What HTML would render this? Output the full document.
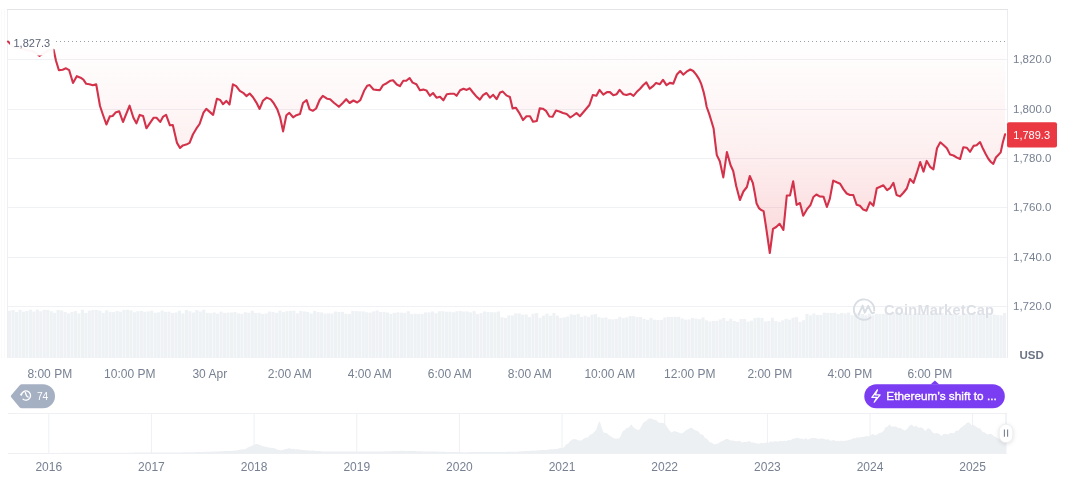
<!DOCTYPE html>
<html><head><meta charset="utf-8"><title>chart</title>
<style>
html,body{margin:0;padding:0;background:#fff;}
body{width:1072px;height:477px;position:relative;overflow:hidden;font-family:"Liberation Sans",sans-serif;}
</style></head><body>
<svg width="1072" height="477" viewBox="0 0 1072 477" style="position:absolute;left:0;top:0;will-change:transform"><defs>
<linearGradient id="rg" x1="0" y1="41.5" x2="0" y2="253" gradientUnits="userSpaceOnUse">
<stop offset="0" stop-color="#ea3943" stop-opacity="0"/>
<stop offset="0.5" stop-color="#ea3943" stop-opacity="0.075"/>
<stop offset="1" stop-color="#ea3943" stop-opacity="0.2"/>
</linearGradient>
</defs><line x1="7.5" y1="9" x2="7.5" y2="358" stroke="#efeff1" stroke-width="1"/><line x1="1.5" y1="9" x2="1.5" y2="358" stroke="#fafafa" stroke-width="1"/><line x1="4.5" y1="9" x2="4.5" y2="358" stroke="#fafafa" stroke-width="1"/><line x1="1007.5" y1="9" x2="1007.5" y2="358" stroke="#ececee" stroke-width="1"/><line x1="7" y1="9.5" x2="1008" y2="9.5" stroke="#e4e4e7" stroke-width="1"/><line x1="8" y1="59.5" x2="1007" y2="59.5" stroke="#eff1f4" stroke-width="1"/><line x1="8" y1="109.5" x2="1007" y2="109.5" stroke="#eff1f4" stroke-width="1"/><line x1="8" y1="158.5" x2="1007" y2="158.5" stroke="#eff1f4" stroke-width="1"/><line x1="8" y1="207.5" x2="1007" y2="207.5" stroke="#eff1f4" stroke-width="1"/><line x1="8" y1="257.5" x2="1007" y2="257.5" stroke="#eff1f4" stroke-width="1"/><line x1="8" y1="306.5" x2="1007" y2="306.5" stroke="#eff1f4" stroke-width="1"/><g fill="#eff2f5"><rect x="8.00" y="310.8" width="3.17" height="47.2"/><rect x="11.47" y="310.1" width="3.17" height="47.9"/><rect x="14.93" y="312.1" width="3.17" height="45.9"/><rect x="18.40" y="309.8" width="3.17" height="48.2"/><rect x="21.87" y="311.6" width="3.17" height="46.4"/><rect x="25.34" y="311.0" width="3.17" height="47.0"/><rect x="28.80" y="309.7" width="3.17" height="48.3"/><rect x="32.27" y="311.5" width="3.17" height="46.5"/><rect x="35.74" y="309.6" width="3.17" height="48.4"/><rect x="39.20" y="311.2" width="3.17" height="46.8"/><rect x="42.67" y="309.8" width="3.17" height="48.2"/><rect x="46.14" y="309.9" width="3.17" height="48.1"/><rect x="49.60" y="311.2" width="3.17" height="46.8"/><rect x="53.07" y="312.8" width="3.17" height="45.2"/><rect x="56.54" y="310.0" width="3.17" height="48.0"/><rect x="60.01" y="310.4" width="3.17" height="47.6"/><rect x="63.47" y="312.0" width="3.17" height="46.0"/><rect x="66.94" y="313.3" width="3.17" height="44.7"/><rect x="70.41" y="311.8" width="3.17" height="46.2"/><rect x="73.87" y="311.1" width="3.17" height="46.9"/><rect x="77.34" y="313.4" width="3.17" height="44.6"/><rect x="80.81" y="309.7" width="3.17" height="48.3"/><rect x="84.27" y="312.9" width="3.17" height="45.1"/><rect x="87.74" y="310.7" width="3.17" height="47.3"/><rect x="91.21" y="310.1" width="3.17" height="47.9"/><rect x="94.68" y="310.0" width="3.17" height="48.0"/><rect x="98.14" y="310.7" width="3.17" height="47.3"/><rect x="101.61" y="312.8" width="3.17" height="45.2"/><rect x="105.08" y="310.2" width="3.17" height="47.8"/><rect x="108.54" y="311.8" width="3.17" height="46.2"/><rect x="112.01" y="312.1" width="3.17" height="45.9"/><rect x="115.48" y="311.0" width="3.17" height="47.0"/><rect x="118.94" y="311.7" width="3.17" height="46.3"/><rect x="122.41" y="309.8" width="3.17" height="48.2"/><rect x="125.88" y="309.7" width="3.17" height="48.3"/><rect x="129.35" y="310.3" width="3.17" height="47.7"/><rect x="132.81" y="312.2" width="3.17" height="45.8"/><rect x="136.28" y="311.2" width="3.17" height="46.8"/><rect x="139.75" y="310.8" width="3.17" height="47.2"/><rect x="143.21" y="311.8" width="3.17" height="46.2"/><rect x="146.68" y="311.3" width="3.17" height="46.7"/><rect x="150.15" y="310.7" width="3.17" height="47.3"/><rect x="153.61" y="312.7" width="3.17" height="45.3"/><rect x="157.08" y="312.3" width="3.17" height="45.7"/><rect x="160.55" y="310.5" width="3.17" height="47.5"/><rect x="164.02" y="311.8" width="3.17" height="46.2"/><rect x="167.48" y="311.6" width="3.17" height="46.4"/><rect x="170.95" y="313.0" width="3.17" height="45.0"/><rect x="174.42" y="312.4" width="3.17" height="45.6"/><rect x="177.88" y="310.7" width="3.17" height="47.3"/><rect x="181.35" y="313.4" width="3.17" height="44.6"/><rect x="184.82" y="310.0" width="3.17" height="48.0"/><rect x="188.28" y="311.2" width="3.17" height="46.8"/><rect x="191.75" y="312.5" width="3.17" height="45.5"/><rect x="195.22" y="310.1" width="3.17" height="47.9"/><rect x="198.69" y="311.5" width="3.17" height="46.5"/><rect x="202.15" y="309.7" width="3.17" height="48.3"/><rect x="205.62" y="312.8" width="3.17" height="45.2"/><rect x="209.09" y="313.2" width="3.17" height="44.8"/><rect x="212.55" y="312.5" width="3.17" height="45.5"/><rect x="216.02" y="313.6" width="3.17" height="44.4"/><rect x="219.49" y="311.6" width="3.17" height="46.4"/><rect x="222.95" y="312.9" width="3.17" height="45.1"/><rect x="226.42" y="312.6" width="3.17" height="45.4"/><rect x="229.89" y="312.5" width="3.17" height="45.5"/><rect x="233.36" y="312.1" width="3.17" height="45.9"/><rect x="236.82" y="313.4" width="3.17" height="44.6"/><rect x="240.29" y="313.8" width="3.17" height="44.2"/><rect x="243.76" y="312.2" width="3.17" height="45.8"/><rect x="247.22" y="312.8" width="3.17" height="45.2"/><rect x="250.69" y="310.7" width="3.17" height="47.3"/><rect x="254.16" y="313.0" width="3.17" height="45.0"/><rect x="257.62" y="312.8" width="3.17" height="45.2"/><rect x="261.09" y="314.0" width="3.17" height="44.0"/><rect x="264.56" y="313.4" width="3.17" height="44.6"/><rect x="268.03" y="311.5" width="3.17" height="46.5"/><rect x="271.49" y="311.9" width="3.17" height="46.1"/><rect x="274.96" y="312.8" width="3.17" height="45.2"/><rect x="278.43" y="310.6" width="3.17" height="47.4"/><rect x="281.89" y="312.1" width="3.17" height="45.9"/><rect x="285.36" y="311.1" width="3.17" height="46.9"/><rect x="288.83" y="310.9" width="3.17" height="47.1"/><rect x="292.30" y="310.7" width="3.17" height="47.3"/><rect x="295.76" y="313.2" width="3.17" height="44.8"/><rect x="299.23" y="311.0" width="3.17" height="47.0"/><rect x="302.70" y="311.4" width="3.17" height="46.6"/><rect x="306.16" y="311.9" width="3.17" height="46.1"/><rect x="309.63" y="313.5" width="3.17" height="44.5"/><rect x="313.10" y="310.8" width="3.17" height="47.2"/><rect x="316.56" y="312.1" width="3.17" height="45.9"/><rect x="320.03" y="312.4" width="3.17" height="45.6"/><rect x="323.50" y="313.6" width="3.17" height="44.4"/><rect x="326.97" y="313.4" width="3.17" height="44.6"/><rect x="330.43" y="313.5" width="3.17" height="44.5"/><rect x="333.90" y="311.5" width="3.17" height="46.5"/><rect x="337.37" y="312.0" width="3.17" height="46.0"/><rect x="340.83" y="311.8" width="3.17" height="46.2"/><rect x="344.30" y="313.6" width="3.17" height="44.4"/><rect x="347.77" y="313.9" width="3.17" height="44.1"/><rect x="351.23" y="311.0" width="3.17" height="47.0"/><rect x="354.70" y="311.1" width="3.17" height="46.9"/><rect x="358.17" y="311.3" width="3.17" height="46.7"/><rect x="361.64" y="311.3" width="3.17" height="46.7"/><rect x="365.10" y="312.2" width="3.17" height="45.8"/><rect x="368.57" y="312.6" width="3.17" height="45.4"/><rect x="372.04" y="311.4" width="3.17" height="46.6"/><rect x="375.50" y="310.5" width="3.17" height="47.5"/><rect x="378.97" y="312.0" width="3.17" height="46.0"/><rect x="382.44" y="311.8" width="3.17" height="46.2"/><rect x="385.90" y="312.5" width="3.17" height="45.5"/><rect x="389.37" y="313.8" width="3.17" height="44.2"/><rect x="392.84" y="312.9" width="3.17" height="45.1"/><rect x="396.31" y="312.3" width="3.17" height="45.7"/><rect x="399.77" y="312.7" width="3.17" height="45.3"/><rect x="403.24" y="312.9" width="3.17" height="45.1"/><rect x="406.71" y="311.2" width="3.17" height="46.8"/><rect x="410.17" y="314.1" width="3.17" height="43.9"/><rect x="413.64" y="313.7" width="3.17" height="44.3"/><rect x="417.11" y="314.1" width="3.17" height="43.9"/><rect x="420.57" y="313.8" width="3.17" height="44.2"/><rect x="424.04" y="312.4" width="3.17" height="45.6"/><rect x="427.51" y="312.4" width="3.17" height="45.6"/><rect x="430.98" y="311.4" width="3.17" height="46.6"/><rect x="434.44" y="313.2" width="3.17" height="44.8"/><rect x="437.91" y="311.2" width="3.17" height="46.8"/><rect x="441.38" y="311.2" width="3.17" height="46.8"/><rect x="444.84" y="311.7" width="3.17" height="46.3"/><rect x="448.31" y="311.6" width="3.17" height="46.4"/><rect x="451.78" y="312.2" width="3.17" height="45.8"/><rect x="455.24" y="311.2" width="3.17" height="46.8"/><rect x="458.71" y="311.0" width="3.17" height="47.0"/><rect x="462.18" y="311.5" width="3.17" height="46.5"/><rect x="465.65" y="311.4" width="3.17" height="46.6"/><rect x="469.11" y="312.3" width="3.17" height="45.7"/><rect x="472.58" y="311.1" width="3.17" height="46.9"/><rect x="476.05" y="314.1" width="3.17" height="43.9"/><rect x="479.51" y="313.1" width="3.17" height="44.9"/><rect x="482.98" y="311.5" width="3.17" height="46.5"/><rect x="486.45" y="311.9" width="3.17" height="46.1"/><rect x="489.91" y="312.2" width="3.17" height="45.8"/><rect x="493.38" y="312.3" width="3.17" height="45.7"/><rect x="496.85" y="311.4" width="3.17" height="46.6"/><rect x="500.32" y="317.2" width="3.17" height="40.8"/><rect x="503.78" y="318.0" width="3.17" height="40.0"/><rect x="507.25" y="315.3" width="3.17" height="42.7"/><rect x="510.72" y="315.4" width="3.17" height="42.6"/><rect x="514.18" y="313.4" width="3.17" height="44.6"/><rect x="517.65" y="313.5" width="3.17" height="44.5"/><rect x="521.12" y="314.7" width="3.17" height="43.3"/><rect x="524.59" y="314.3" width="3.17" height="43.7"/><rect x="528.05" y="317.1" width="3.17" height="40.9"/><rect x="531.52" y="313.8" width="3.17" height="44.2"/><rect x="534.99" y="313.1" width="3.17" height="44.9"/><rect x="538.45" y="317.8" width="3.17" height="40.2"/><rect x="541.92" y="315.6" width="3.17" height="42.4"/><rect x="545.39" y="313.7" width="3.17" height="44.3"/><rect x="548.85" y="315.7" width="3.17" height="42.3"/><rect x="552.32" y="313.1" width="3.17" height="44.9"/><rect x="555.79" y="315.6" width="3.17" height="42.4"/><rect x="559.26" y="317.9" width="3.17" height="40.1"/><rect x="562.72" y="317.3" width="3.17" height="40.7"/><rect x="566.19" y="316.5" width="3.17" height="41.5"/><rect x="569.66" y="314.3" width="3.17" height="43.7"/><rect x="573.12" y="314.8" width="3.17" height="43.2"/><rect x="576.59" y="313.8" width="3.17" height="44.2"/><rect x="580.06" y="316.9" width="3.17" height="41.1"/><rect x="583.52" y="315.7" width="3.17" height="42.3"/><rect x="586.99" y="316.9" width="3.17" height="41.1"/><rect x="590.46" y="314.6" width="3.17" height="43.4"/><rect x="593.93" y="314.1" width="3.17" height="43.9"/><rect x="597.39" y="317.1" width="3.17" height="40.9"/><rect x="600.86" y="317.9" width="3.17" height="40.1"/><rect x="604.33" y="317.3" width="3.17" height="40.7"/><rect x="607.79" y="319.2" width="3.17" height="38.8"/><rect x="611.26" y="319.3" width="3.17" height="38.7"/><rect x="614.73" y="319.0" width="3.17" height="39.0"/><rect x="618.19" y="316.9" width="3.17" height="41.1"/><rect x="621.66" y="318.1" width="3.17" height="39.9"/><rect x="625.13" y="317.4" width="3.17" height="40.6"/><rect x="628.60" y="316.1" width="3.17" height="41.9"/><rect x="632.06" y="316.1" width="3.17" height="41.9"/><rect x="635.53" y="317.1" width="3.17" height="40.9"/><rect x="639.00" y="317.0" width="3.17" height="41.0"/><rect x="642.46" y="318.8" width="3.17" height="39.2"/><rect x="645.93" y="319.8" width="3.17" height="38.2"/><rect x="649.40" y="317.8" width="3.17" height="40.2"/><rect x="652.86" y="319.7" width="3.17" height="38.3"/><rect x="656.33" y="320.0" width="3.17" height="38.0"/><rect x="659.80" y="319.8" width="3.17" height="38.2"/><rect x="663.27" y="317.5" width="3.17" height="40.5"/><rect x="666.73" y="316.9" width="3.17" height="41.1"/><rect x="670.20" y="316.9" width="3.17" height="41.1"/><rect x="673.67" y="316.8" width="3.17" height="41.2"/><rect x="677.13" y="316.8" width="3.17" height="41.2"/><rect x="680.60" y="318.5" width="3.17" height="39.5"/><rect x="684.07" y="319.6" width="3.17" height="38.4"/><rect x="687.53" y="319.4" width="3.17" height="38.6"/><rect x="691.00" y="317.9" width="3.17" height="40.1"/><rect x="694.47" y="318.6" width="3.17" height="39.4"/><rect x="697.94" y="319.2" width="3.17" height="38.8"/><rect x="701.40" y="317.4" width="3.17" height="40.6"/><rect x="704.87" y="320.3" width="3.17" height="37.7"/><rect x="708.34" y="321.5" width="3.17" height="36.5"/><rect x="711.80" y="320.9" width="3.17" height="37.1"/><rect x="715.27" y="320.8" width="3.17" height="37.2"/><rect x="718.74" y="319.4" width="3.17" height="38.6"/><rect x="722.20" y="317.9" width="3.17" height="40.1"/><rect x="725.67" y="320.9" width="3.17" height="37.1"/><rect x="729.14" y="318.7" width="3.17" height="39.3"/><rect x="732.61" y="321.0" width="3.17" height="37.0"/><rect x="736.07" y="321.9" width="3.17" height="36.1"/><rect x="739.54" y="319.0" width="3.17" height="39.0"/><rect x="743.01" y="319.0" width="3.17" height="39.0"/><rect x="746.47" y="321.7" width="3.17" height="36.3"/><rect x="749.94" y="320.6" width="3.17" height="37.4"/><rect x="753.41" y="317.9" width="3.17" height="40.1"/><rect x="756.88" y="317.6" width="3.17" height="40.4"/><rect x="760.34" y="317.8" width="3.17" height="40.2"/><rect x="763.81" y="321.5" width="3.17" height="36.5"/><rect x="767.28" y="321.0" width="3.17" height="37.0"/><rect x="770.74" y="317.7" width="3.17" height="40.3"/><rect x="774.21" y="321.1" width="3.17" height="36.9"/><rect x="777.68" y="321.9" width="3.17" height="36.1"/><rect x="781.14" y="320.3" width="3.17" height="37.7"/><rect x="784.61" y="318.8" width="3.17" height="39.2"/><rect x="788.08" y="319.7" width="3.17" height="38.3"/><rect x="791.55" y="317.7" width="3.17" height="40.3"/><rect x="795.01" y="317.1" width="3.17" height="40.9"/><rect x="798.48" y="321.9" width="3.17" height="36.1"/><rect x="801.95" y="320.2" width="3.17" height="37.8"/><rect x="805.41" y="313.8" width="3.17" height="44.2"/><rect x="808.88" y="315.3" width="3.17" height="42.7"/><rect x="812.35" y="313.5" width="3.17" height="44.5"/><rect x="815.81" y="315.1" width="3.17" height="42.9"/><rect x="819.28" y="314.9" width="3.17" height="43.1"/><rect x="822.75" y="312.7" width="3.17" height="45.3"/><rect x="826.22" y="312.9" width="3.17" height="45.1"/><rect x="829.68" y="313.0" width="3.17" height="45.0"/><rect x="833.15" y="312.8" width="3.17" height="45.2"/><rect x="836.62" y="314.1" width="3.17" height="43.9"/><rect x="840.08" y="312.9" width="3.17" height="45.1"/><rect x="843.55" y="313.5" width="3.17" height="44.5"/><rect x="847.02" y="312.5" width="3.17" height="45.5"/><rect x="850.48" y="315.2" width="3.17" height="42.8"/><rect x="853.95" y="313.2" width="3.17" height="44.8"/><rect x="857.42" y="313.6" width="3.17" height="44.4"/><rect x="860.89" y="314.0" width="3.17" height="44.0"/><rect x="864.35" y="315.2" width="3.17" height="42.8"/><rect x="867.82" y="313.5" width="3.17" height="44.5"/><rect x="871.29" y="315.2" width="3.17" height="42.8"/><rect x="874.75" y="313.8" width="3.17" height="44.2"/><rect x="878.22" y="313.9" width="3.17" height="44.1"/><rect x="881.69" y="313.8" width="3.17" height="44.2"/><rect x="885.15" y="312.1" width="3.17" height="45.9"/><rect x="888.62" y="313.5" width="3.17" height="44.5"/><rect x="892.09" y="312.6" width="3.17" height="45.4"/><rect x="895.56" y="312.0" width="3.17" height="46.0"/><rect x="899.02" y="314.8" width="3.17" height="43.2"/><rect x="902.49" y="312.6" width="3.17" height="45.4"/><rect x="905.96" y="313.7" width="3.17" height="44.3"/><rect x="909.42" y="314.5" width="3.17" height="43.5"/><rect x="912.89" y="313.9" width="3.17" height="44.1"/><rect x="916.36" y="313.1" width="3.17" height="44.9"/><rect x="919.82" y="313.8" width="3.17" height="44.2"/><rect x="923.29" y="313.9" width="3.17" height="44.1"/><rect x="926.76" y="314.7" width="3.17" height="43.3"/><rect x="930.23" y="312.4" width="3.17" height="45.6"/><rect x="933.69" y="314.0" width="3.17" height="44.0"/><rect x="937.16" y="312.9" width="3.17" height="45.1"/><rect x="940.63" y="313.0" width="3.17" height="45.0"/><rect x="944.09" y="314.7" width="3.17" height="43.3"/><rect x="947.56" y="313.8" width="3.17" height="44.2"/><rect x="951.03" y="314.0" width="3.17" height="44.0"/><rect x="954.49" y="314.7" width="3.17" height="43.3"/><rect x="957.96" y="315.2" width="3.17" height="42.8"/><rect x="961.43" y="313.6" width="3.17" height="44.4"/><rect x="964.90" y="314.1" width="3.17" height="43.9"/><rect x="968.36" y="313.8" width="3.17" height="44.2"/><rect x="971.83" y="313.8" width="3.17" height="44.2"/><rect x="975.30" y="314.4" width="3.17" height="43.6"/><rect x="978.76" y="313.6" width="3.17" height="44.4"/><rect x="982.23" y="313.9" width="3.17" height="44.1"/><rect x="985.70" y="313.7" width="3.17" height="44.3"/><rect x="989.16" y="315.3" width="3.17" height="42.7"/><rect x="992.63" y="314.4" width="3.17" height="43.6"/><rect x="996.10" y="315.1" width="3.17" height="42.9"/><rect x="999.57" y="315.3" width="3.17" height="42.7"/><rect x="1003.03" y="312.9" width="3.17" height="45.1"/></g><polygon points="8.0,41.5 8.0,41.5 13.5,47.0 20.0,48.0 26.0,50.0 32.0,51.0 36.0,53.0 39.5,56.0 44.0,53.0 48.0,50.5 53.6,49.8 56.0,60.8 58.9,70.2 62.6,69.8 66.0,68.3 69.2,70.2 73.0,83.0 76.8,76.2 80.6,77.7 83.4,79.6 86.2,83.8 89.4,84.2 92.8,85.3 96.2,84.3 100.0,106.0 103.2,115.5 106.4,124.5 109.8,116.4 112.6,116.0 115.5,112.6 119.2,111.3 123.0,122.0 129.6,105.7 133.4,117.8 136.4,123.3 139.7,114.9 143.1,116.1 146.4,128.3 150.1,122.8 153.5,117.8 156.5,117.8 160.2,121.9 163.2,116.6 166.1,114.9 169.9,125.3 172.8,125.0 177.0,142.9 180.0,148.0 182.9,145.4 186.2,144.6 189.6,142.9 192.9,134.5 196.3,128.7 199.6,124.0 203.5,112.7 206.3,108.9 209.7,111.9 213.1,114.9 216.9,98.8 220.2,100.0 223.0,104.2 226.3,100.9 229.5,104.5 232.9,84.4 236.2,86.2 239.8,90.9 243.2,92.8 246.4,96.1 249.7,93.5 253.0,97.2 256.4,102.6 259.6,108.9 262.9,100.8 266.7,97.6 270.7,99.4 273.6,103.0 277.3,109.4 280.2,117.7 283.1,131.4 286.4,115.2 289.3,112.9 293.1,117.3 296.4,115.2 300.0,114.0 303.0,103.0 306.6,100.1 309.6,109.4 312.8,110.8 316.1,108.5 319.6,100.0 322.8,95.8 327.0,98.7 330.1,99.2 333.9,102.7 338.9,106.8 343.0,102.7 346.2,99.2 349.6,103.0 353.4,100.5 357.2,102.5 360.3,100.2 364.1,90.8 367.2,85.8 369.7,85.1 373.5,89.5 376.7,89.9 379.8,90.2 383.0,85.1 386.7,83.2 390.5,80.7 393.0,80.3 396.8,84.5 399.9,86.1 403.3,80.8 406.3,80.8 409.6,78.0 412.6,82.6 416.4,84.2 419.9,90.2 423.3,89.6 426.4,90.4 429.9,95.8 433.0,93.0 436.5,97.7 440.0,96.7 443.4,100.3 446.8,94.2 450.3,93.7 454.1,93.7 456.6,95.8 460.1,90.2 463.5,88.7 466.7,89.9 469.8,88.3 473.0,92.5 476.1,96.2 479.9,99.6 483.0,95.2 486.5,93.0 489.9,97.7 493.2,94.8 496.6,99.2 500.1,92.6 502.8,91.6 506.4,95.4 509.9,97.0 512.6,108.4 515.8,107.7 519.2,112.8 523.0,120.1 526.5,116.3 530.0,116.3 533.0,121.8 536.8,120.9 539.7,108.4 542.8,108.7 546.0,110.9 549.4,116.5 552.6,116.8 556.0,110.5 559.4,111.5 563.0,113.0 566.7,114.0 570.3,117.5 573.3,115.5 576.5,113.0 579.9,116.2 585.0,110.3 589.4,105.0 592.8,95.0 596.4,95.8 599.5,89.9 603.3,94.6 607.0,92.1 609.9,92.1 613.3,95.2 616.7,94.2 619.6,89.9 623.4,94.2 626.5,95.0 630.3,93.7 633.5,95.8 636.6,92.1 640.1,88.7 643.1,85.2 646.4,82.4 649.8,88.7 653.0,86.2 656.1,82.9 659.9,84.2 663.0,79.9 666.5,85.2 669.9,82.9 673.3,83.6 676.9,74.5 680.2,71.0 683.2,74.7 686.6,71.7 690.3,69.5 693.2,71.0 696.2,74.7 699.1,79.1 701.3,84.2 703.5,91.6 705.3,99.6 706.7,107.0 709.1,113.6 711.6,121.7 713.6,128.5 715.1,141.4 716.8,155.1 719.8,161.3 723.3,177.4 726.9,152.1 730.6,165.2 733.2,171.0 736.2,186.0 739.9,200.0 743.4,191.5 746.9,187.0 749.8,176.0 752.8,182.8 754.7,192.6 756.6,203.6 758.9,208.1 761.1,210.0 763.6,211.1 766.0,226.6 769.8,253.0 773.0,228.9 776.2,227.0 779.6,223.8 783.4,230.0 786.8,195.5 790.0,195.5 793.2,181.3 796.6,204.9 800.0,203.0 803.2,215.7 807.0,209.2 810.5,205.0 813.4,197.0 816.4,194.5 819.6,196.4 823.5,196.7 826.9,207.0 829.8,198.9 833.2,180.6 836.7,182.3 840.1,183.8 843.5,189.4 846.7,193.5 849.9,195.0 853.3,195.0 856.7,204.8 859.9,205.8 863.2,209.6 866.5,210.7 869.9,202.3 873.4,205.8 876.8,188.2 880.2,186.7 883.4,185.3 887.1,190.1 890.0,188.2 893.4,182.8 896.6,195.0 899.9,196.4 903.2,193.0 906.8,188.5 910.0,179.0 913.5,182.9 916.9,172.7 920.2,162.0 923.5,171.6 926.7,160.9 930.1,166.8 933.4,169.3 937.0,148.2 940.3,142.3 943.7,145.2 946.9,148.2 950.1,154.6 953.5,155.5 956.9,157.6 960.1,159.0 963.3,147.3 966.7,147.7 970.1,151.8 973.5,145.9 976.6,145.3 980.1,142.1 982.9,148.6 985.8,154.2 988.5,159.0 990.9,162.0 993.3,163.9 995.9,157.5 998.3,155.0 1000.7,152.4 1002.8,142.5 1005.1,134.3 1005.1,41.5" fill="url(#rg)"/><line x1="8" y1="41.5" x2="1007" y2="41.5" stroke="#9aa0aa" stroke-width="1" stroke-dasharray="1 3"/><polyline points="8.0,41.5 13.5,47.0 20.0,48.0 26.0,50.0 32.0,51.0 36.0,53.0 39.5,56.0 44.0,53.0 48.0,50.5 53.6,49.8 56.0,60.8 58.9,70.2 62.6,69.8 66.0,68.3 69.2,70.2 73.0,83.0 76.8,76.2 80.6,77.7 83.4,79.6 86.2,83.8 89.4,84.2 92.8,85.3 96.2,84.3 100.0,106.0 103.2,115.5 106.4,124.5 109.8,116.4 112.6,116.0 115.5,112.6 119.2,111.3 123.0,122.0 129.6,105.7 133.4,117.8 136.4,123.3 139.7,114.9 143.1,116.1 146.4,128.3 150.1,122.8 153.5,117.8 156.5,117.8 160.2,121.9 163.2,116.6 166.1,114.9 169.9,125.3 172.8,125.0 177.0,142.9 180.0,148.0 182.9,145.4 186.2,144.6 189.6,142.9 192.9,134.5 196.3,128.7 199.6,124.0 203.5,112.7 206.3,108.9 209.7,111.9 213.1,114.9 216.9,98.8 220.2,100.0 223.0,104.2 226.3,100.9 229.5,104.5 232.9,84.4 236.2,86.2 239.8,90.9 243.2,92.8 246.4,96.1 249.7,93.5 253.0,97.2 256.4,102.6 259.6,108.9 262.9,100.8 266.7,97.6 270.7,99.4 273.6,103.0 277.3,109.4 280.2,117.7 283.1,131.4 286.4,115.2 289.3,112.9 293.1,117.3 296.4,115.2 300.0,114.0 303.0,103.0 306.6,100.1 309.6,109.4 312.8,110.8 316.1,108.5 319.6,100.0 322.8,95.8 327.0,98.7 330.1,99.2 333.9,102.7 338.9,106.8 343.0,102.7 346.2,99.2 349.6,103.0 353.4,100.5 357.2,102.5 360.3,100.2 364.1,90.8 367.2,85.8 369.7,85.1 373.5,89.5 376.7,89.9 379.8,90.2 383.0,85.1 386.7,83.2 390.5,80.7 393.0,80.3 396.8,84.5 399.9,86.1 403.3,80.8 406.3,80.8 409.6,78.0 412.6,82.6 416.4,84.2 419.9,90.2 423.3,89.6 426.4,90.4 429.9,95.8 433.0,93.0 436.5,97.7 440.0,96.7 443.4,100.3 446.8,94.2 450.3,93.7 454.1,93.7 456.6,95.8 460.1,90.2 463.5,88.7 466.7,89.9 469.8,88.3 473.0,92.5 476.1,96.2 479.9,99.6 483.0,95.2 486.5,93.0 489.9,97.7 493.2,94.8 496.6,99.2 500.1,92.6 502.8,91.6 506.4,95.4 509.9,97.0 512.6,108.4 515.8,107.7 519.2,112.8 523.0,120.1 526.5,116.3 530.0,116.3 533.0,121.8 536.8,120.9 539.7,108.4 542.8,108.7 546.0,110.9 549.4,116.5 552.6,116.8 556.0,110.5 559.4,111.5 563.0,113.0 566.7,114.0 570.3,117.5 573.3,115.5 576.5,113.0 579.9,116.2 585.0,110.3 589.4,105.0 592.8,95.0 596.4,95.8 599.5,89.9 603.3,94.6 607.0,92.1 609.9,92.1 613.3,95.2 616.7,94.2 619.6,89.9 623.4,94.2 626.5,95.0 630.3,93.7 633.5,95.8 636.6,92.1 640.1,88.7 643.1,85.2 646.4,82.4 649.8,88.7 653.0,86.2 656.1,82.9 659.9,84.2 663.0,79.9 666.5,85.2 669.9,82.9 673.3,83.6 676.9,74.5 680.2,71.0 683.2,74.7 686.6,71.7 690.3,69.5 693.2,71.0 696.2,74.7 699.1,79.1 701.3,84.2 703.5,91.6 705.3,99.6 706.7,107.0 709.1,113.6 711.6,121.7 713.6,128.5 715.1,141.4 716.8,155.1 719.8,161.3 723.3,177.4 726.9,152.1 730.6,165.2 733.2,171.0 736.2,186.0 739.9,200.0 743.4,191.5 746.9,187.0 749.8,176.0 752.8,182.8 754.7,192.6 756.6,203.6 758.9,208.1 761.1,210.0 763.6,211.1 766.0,226.6 769.8,253.0 773.0,228.9 776.2,227.0 779.6,223.8 783.4,230.0 786.8,195.5 790.0,195.5 793.2,181.3 796.6,204.9 800.0,203.0 803.2,215.7 807.0,209.2 810.5,205.0 813.4,197.0 816.4,194.5 819.6,196.4 823.5,196.7 826.9,207.0 829.8,198.9 833.2,180.6 836.7,182.3 840.1,183.8 843.5,189.4 846.7,193.5 849.9,195.0 853.3,195.0 856.7,204.8 859.9,205.8 863.2,209.6 866.5,210.7 869.9,202.3 873.4,205.8 876.8,188.2 880.2,186.7 883.4,185.3 887.1,190.1 890.0,188.2 893.4,182.8 896.6,195.0 899.9,196.4 903.2,193.0 906.8,188.5 910.0,179.0 913.5,182.9 916.9,172.7 920.2,162.0 923.5,171.6 926.7,160.9 930.1,166.8 933.4,169.3 937.0,148.2 940.3,142.3 943.7,145.2 946.9,148.2 950.1,154.6 953.5,155.5 956.9,157.6 960.1,159.0 963.3,147.3 966.7,147.7 970.1,151.8 973.5,145.9 976.6,145.3 980.1,142.1 982.9,148.6 985.8,154.2 988.5,159.0 990.9,162.0 993.3,163.9 995.9,157.5 998.3,155.0 1000.7,152.4 1002.8,142.5 1005.1,134.3" fill="none" stroke="#d3324a" stroke-width="2.1" stroke-linejoin="round" stroke-linecap="round"/><rect x="10" y="34" width="43.5" height="21.5" fill="#fff" fill-opacity="0.96"/><text x="13.5" y="46.8" font-family='"Liberation Sans", sans-serif' font-size="11" fill="#5b6475">1,827.3</text><g fill="none" stroke="#d9dde4" stroke-width="1.9" stroke-linecap="round" stroke-linejoin="round">
<path d="M874.2,310.5 A10.2,10.2 0 1 0 870.6,317.4"/>
<path d="M858.6,314.6 L862.6,305.6 L864.8,312.6 L868.2,305.8 L870.8,311.4 Q872,314.4 874,312.6"/>
</g><text x="884" y="315.4" font-family='"Liberation Sans", sans-serif' font-size="14.5" font-weight="bold" letter-spacing="0.3" fill="#dcdfe5">CoinMarketCap</text><text x="1013.0" y="62.8" font-family='"Liberation Sans", sans-serif' font-size="11.5" fill="#778192">1,820.0</text><text x="1013.0" y="112.8" font-family='"Liberation Sans", sans-serif' font-size="11.5" fill="#778192">1,800.0</text><text x="1013.0" y="161.8" font-family='"Liberation Sans", sans-serif' font-size="11.5" fill="#778192">1,780.0</text><text x="1013.0" y="210.8" font-family='"Liberation Sans", sans-serif' font-size="11.5" fill="#778192">1,760.0</text><text x="1013.0" y="260.8" font-family='"Liberation Sans", sans-serif' font-size="11.5" fill="#778192">1,740.0</text><text x="1013.0" y="309.8" font-family='"Liberation Sans", sans-serif' font-size="11.5" fill="#778192">1,720.0</text><rect x="1007" y="122.2" width="50" height="25.3" rx="2" fill="#ea3943"/><text x="1013.3" y="139" font-family='"Liberation Sans", sans-serif' font-size="11" fill="#fff">1,789.3</text><text x="1019.5" y="358.8" font-family='"Liberation Sans", sans-serif' font-size="11.5" font-weight="bold" fill="#6b7485">USD</text><text x="49.8" y="378.3" text-anchor="middle" font-family='"Liberation Sans", sans-serif' font-size="12" fill="#778192">8:00 PM</text><text x="129.8" y="378.3" text-anchor="middle" font-family='"Liberation Sans", sans-serif' font-size="12" fill="#778192">10:00 PM</text><text x="209.8" y="378.3" text-anchor="middle" font-family='"Liberation Sans", sans-serif' font-size="12" fill="#778192">30 Apr</text><text x="289.8" y="378.3" text-anchor="middle" font-family='"Liberation Sans", sans-serif' font-size="12" fill="#778192">2:00 AM</text><text x="369.8" y="378.3" text-anchor="middle" font-family='"Liberation Sans", sans-serif' font-size="12" fill="#778192">4:00 AM</text><text x="449.8" y="378.3" text-anchor="middle" font-family='"Liberation Sans", sans-serif' font-size="12" fill="#778192">6:00 AM</text><text x="529.8" y="378.3" text-anchor="middle" font-family='"Liberation Sans", sans-serif' font-size="12" fill="#778192">8:00 AM</text><text x="609.8" y="378.3" text-anchor="middle" font-family='"Liberation Sans", sans-serif' font-size="12" fill="#778192">10:00 AM</text><text x="689.8" y="378.3" text-anchor="middle" font-family='"Liberation Sans", sans-serif' font-size="12" fill="#778192">12:00 PM</text><text x="769.8" y="378.3" text-anchor="middle" font-family='"Liberation Sans", sans-serif' font-size="12" fill="#778192">2:00 PM</text><text x="849.8" y="378.3" text-anchor="middle" font-family='"Liberation Sans", sans-serif' font-size="12" fill="#778192">4:00 PM</text><text x="929.8" y="378.3" text-anchor="middle" font-family='"Liberation Sans", sans-serif' font-size="12" fill="#778192">6:00 PM</text><path d="M22,384.3 L43,384.3 A12,12 0 0 1 43,408.3 L22,408.3 Q20.5,408.3 19.5,407.2 L11.2,397.3 Q10.4,396.3 11.2,395.3 L19.5,385.4 Q20.5,384.3 22,384.3 Z" fill="#a6b0c3"/><g fill="none" stroke="#fff" stroke-width="1.3" stroke-linecap="round" stroke-linejoin="round">
<path d="M21.4,394.8 A4.6,4.6 0 1 1 23.1,399.2"/>
<path d="M25.3,392.6 L26.6,395.9 L28.1,397"/>
</g><circle cx="21.1" cy="394.6" r="1" fill="#fff"/><text x="36.9" y="400.1" font-family='"Liberation Sans", sans-serif' font-size="10.2" fill="#fff">74</text><path d="M930.5,384.4 L934.9,380.4 L939.3,384.4 Z" fill="#7b3df2"/><rect x="864.3" y="384.3" width="140.5" height="24" rx="12" fill="#7b3df2"/><path d="M877.4,389.9 L871.9,397.4 L876.9,397.4 L874.2,402.2 L880.1,394.9 L875.2,394.9 Z" fill="none" stroke="#fff" stroke-width="1.3" stroke-linejoin="round"/><text x="886.3" y="399.8" font-family='"Liberation Sans", sans-serif' font-size="11.8" fill="#fff" stroke="#fff" stroke-width="0.35">Ethereum's shift to ...</text><line x1="8" y1="413.5" x2="1006.5" y2="413.5" stroke="#eef0f3" stroke-width="1"/><line x1="48.8" y1="414" x2="48.8" y2="453" stroke="#eef0f3" stroke-width="1"/><line x1="151.4" y1="414" x2="151.4" y2="453" stroke="#eef0f3" stroke-width="1"/><line x1="254.1" y1="414" x2="254.1" y2="453" stroke="#eef0f3" stroke-width="1"/><line x1="356.8" y1="414" x2="356.8" y2="453" stroke="#eef0f3" stroke-width="1"/><line x1="459.4" y1="414" x2="459.4" y2="453" stroke="#eef0f3" stroke-width="1"/><line x1="562.0" y1="414" x2="562.0" y2="453" stroke="#eef0f3" stroke-width="1"/><line x1="664.7" y1="414" x2="664.7" y2="453" stroke="#eef0f3" stroke-width="1"/><line x1="767.4" y1="414" x2="767.4" y2="453" stroke="#eef0f3" stroke-width="1"/><line x1="870.0" y1="414" x2="870.0" y2="453" stroke="#eef0f3" stroke-width="1"/><line x1="972.6" y1="414" x2="972.6" y2="453" stroke="#eef0f3" stroke-width="1"/><polygon points="8.0,453.0 9.6,453.0 11.2,453.0 12.8,453.0 14.5,453.0 16.1,453.0 17.7,453.0 19.3,453.0 20.9,453.0 22.5,453.0 24.1,453.0 25.8,452.9 27.4,452.9 29.0,452.9 30.6,452.9 32.2,452.9 33.8,452.9 35.4,452.9 37.0,452.9 38.7,452.9 40.3,452.9 41.9,452.9 43.5,452.9 45.1,452.9 46.7,452.9 48.3,452.9 50.0,452.9 51.6,452.9 53.2,452.9 54.8,452.9 56.4,452.9 58.0,452.9 59.6,452.9 61.2,452.9 62.9,452.8 64.5,452.8 66.1,452.8 67.7,452.8 69.3,452.8 70.9,452.8 72.5,452.8 74.2,452.8 75.8,452.8 77.4,452.8 79.0,452.8 80.6,452.8 82.2,452.8 83.8,452.8 85.5,452.8 87.1,452.8 88.7,452.8 90.3,452.8 91.9,452.8 93.5,452.8 95.1,452.8 96.8,452.8 98.4,452.7 100.0,452.7 101.6,452.7 103.2,452.7 104.8,452.7 106.4,452.7 108.0,452.7 109.7,452.7 111.3,452.7 112.9,452.7 114.5,452.7 116.1,452.7 117.7,452.7 119.3,452.7 121.0,452.7 122.6,452.7 124.2,452.7 125.8,452.7 127.4,452.7 129.0,452.7 130.6,452.7 132.2,452.7 133.9,452.6 135.5,452.6 137.1,452.6 138.7,452.6 140.3,452.6 141.9,452.6 143.5,452.6 145.2,452.6 146.8,452.6 148.4,452.6 150.0,452.6 151.6,452.6 153.2,452.6 154.8,452.6 156.4,452.6 158.0,452.5 159.6,452.5 161.2,452.5 162.8,452.5 164.4,452.5 166.0,452.5 167.6,452.5 169.2,452.5 170.8,452.4 172.4,452.4 174.0,452.4 175.6,452.4 177.2,452.4 178.8,452.4 180.4,452.4 182.0,452.4 183.6,452.3 185.2,452.3 186.8,452.3 188.4,452.3 190.0,452.3 191.6,452.2 193.3,452.2 194.9,452.2 196.6,452.1 198.2,452.1 199.9,452.0 201.5,452.0 203.1,451.9 204.8,451.8 206.4,451.8 208.1,451.8 209.7,451.7 211.4,451.7 213.0,451.6 214.7,451.5 216.3,451.5 218.0,451.4 219.7,451.3 221.3,451.2 223.0,451.2 224.7,451.1 226.3,451.0 228.0,451.0 229.7,451.0 231.3,450.9 233.0,450.8 234.8,450.4 236.6,450.5 238.4,449.9 240.3,449.5 242.1,449.4 243.9,449.2 245.7,449.0 247.3,447.8 248.9,447.0 250.5,446.5 252.3,445.5 254.0,444.9 255.8,444.0 257.5,444.0 259.1,444.7 260.8,445.3 262.5,446.1 264.2,446.6 265.9,446.7 267.5,447.2 269.2,447.5 270.9,447.8 272.6,448.0 274.3,448.3 275.9,448.7 277.6,449.7 279.3,450.0 281.0,450.3 282.9,450.1 284.8,449.0 286.6,448.9 288.5,448.3 290.3,448.5 292.1,448.9 293.9,448.8 295.7,449.5 297.5,449.1 299.3,449.6 301.1,449.8 302.8,450.0 304.5,450.2 306.1,450.2 307.8,450.4 309.5,450.5 311.2,450.7 312.9,450.6 314.5,450.8 316.2,451.0 317.9,451.1 319.6,451.1 321.3,451.3 322.9,451.5 324.6,451.5 326.3,451.6 327.9,451.6 329.6,451.6 331.2,451.6 332.8,451.6 334.4,451.6 336.1,451.6 337.7,451.6 339.3,451.6 340.9,451.6 342.6,451.6 344.2,451.6 345.8,451.6 347.4,451.6 349.1,451.6 350.7,451.6 352.3,451.6 353.9,451.6 355.6,451.6 357.2,451.6 358.8,451.6 360.4,451.6 362.1,451.6 363.7,451.6 365.3,451.6 366.9,451.6 368.6,451.6 370.2,451.6 371.8,451.6 373.4,451.6 375.1,451.6 376.7,451.6 378.4,451.6 380.1,451.5 381.7,451.4 383.4,451.5 385.1,451.3 386.8,451.3 388.5,451.2 390.1,451.2 391.8,451.2 393.5,451.1 395.2,451.1 396.9,450.9 398.5,450.9 400.2,450.8 401.9,450.8 403.6,450.8 405.2,450.9 406.9,451.0 408.5,451.0 410.2,451.0 411.8,451.1 413.5,451.0 415.1,451.1 416.8,451.2 418.4,451.2 420.1,451.2 421.7,451.3 423.4,451.4 425.0,451.4 426.7,451.4 428.3,451.5 430.0,451.5 431.7,451.6 433.3,451.6 435.0,451.6 436.7,451.6 438.3,451.7 440.0,451.7 441.6,451.8 443.3,451.8 445.0,451.8 446.6,451.9 448.3,451.9 450.0,451.9 451.6,452.0 453.3,452.0 454.9,452.1 456.6,452.1 458.3,452.1 459.9,452.1 461.6,452.2 463.2,452.2 464.8,452.2 466.4,452.2 468.0,452.2 469.6,452.1 471.2,452.1 472.8,452.1 474.5,452.1 476.1,452.1 477.7,452.1 479.3,452.0 480.9,452.0 482.5,452.0 484.1,452.0 485.7,452.0 487.3,452.0 488.9,452.0 490.5,452.0 492.1,452.0 493.7,452.0 495.3,451.9 496.9,451.9 498.5,451.9 500.1,451.9 501.8,451.9 503.4,451.9 505.0,451.9 506.6,451.8 508.2,451.8 509.8,451.8 511.4,451.8 513.0,451.8 514.6,451.7 516.2,451.7 517.8,451.6 519.5,451.6 521.1,451.3 522.7,451.3 524.3,451.0 525.9,451.1 527.5,451.0 529.2,450.9 530.8,450.8 532.4,450.6 534.0,450.7 535.6,450.6 537.2,450.5 538.9,450.3 540.5,450.3 542.1,450.0 543.7,450.0 545.3,450.1 546.9,449.9 548.5,449.5 550.2,449.3 551.8,449.3 553.4,449.3 555.0,449.1 556.8,448.9 558.6,448.4 560.4,447.7 562.2,447.9 564.0,447.3 566.0,444.6 568.0,443.8 570.0,441.3 572.2,439.5 574.4,439.1 576.6,439.5 578.9,440.6 581.1,440.4 583.4,439.1 585.6,437.5 587.8,437.6 590.0,434.7 592.3,433.9 594.1,432.1 596.0,430.1 598.3,423.4 599.8,421.2 601.3,426.4 603.5,432.4 606.5,433.1 609.5,435.4 612.5,437.6 614.4,438.5 616.2,438.4 618.0,438.8 619.9,437.6 622.9,430.9 624.8,430.0 626.6,427.9 628.9,427.5 631.1,424.2 634.1,427.9 636.0,429.0 637.8,430.1 639.7,429.3 641.6,425.7 643.8,422.1 646.0,421.2 648.2,418.8 650.5,418.2 652.4,419.0 654.3,419.7 656.1,420.1 658.0,421.9 659.9,423.0 661.7,422.7 664.7,423.4 667.7,427.9 669.5,430.6 671.4,432.4 674.4,430.9 676.6,431.7 678.9,432.4 681.1,433.5 683.4,432.4 686.3,430.1 688.5,429.0 690.8,427.6 692.6,428.2 694.5,430.1 696.4,430.5 698.3,431.6 700.5,434.2 702.8,434.6 705.0,438.0 707.2,439.1 709.5,442.1 711.8,442.7 714.0,444.3 716.0,444.1 718.0,443.6 720.0,442.1 722.0,441.2 723.9,440.3 725.9,439.1 727.9,439.0 729.9,440.2 731.9,440.6 733.9,440.8 735.8,441.3 737.8,441.3 739.8,440.8 741.8,442.6 743.8,442.1 745.8,441.9 747.8,441.4 749.8,441.3 751.6,442.4 753.5,442.6 755.4,443.0 757.2,443.6 759.1,443.7 761.0,442.7 762.8,443.3 764.7,443.1 766.7,442.4 768.7,442.7 770.7,441.3 772.7,442.1 774.6,441.1 776.6,441.6 778.6,441.5 780.6,440.8 782.6,441.3 784.6,440.7 786.6,441.0 788.6,439.9 790.6,440.3 792.6,438.8 794.6,438.4 796.5,438.0 798.3,437.7 800.1,438.7 802.0,438.4 803.9,439.5 805.8,437.9 807.6,439.5 809.5,439.1 811.4,437.9 813.2,438.1 815.1,438.0 817.0,438.4 818.9,439.0 820.7,438.4 822.5,438.6 824.4,439.1 826.3,439.7 828.1,439.0 830.0,440.7 831.9,440.6 833.8,440.1 835.6,441.0 837.5,440.7 839.4,441.3 841.3,440.6 843.1,441.0 845.0,440.7 846.9,440.6 848.5,439.9 850.1,439.5 851.8,439.3 853.4,438.1 855.0,438.4 857.0,437.2 859.0,437.7 861.0,436.9 863.0,437.0 864.9,436.4 866.9,436.1 868.9,436.4 870.9,435.0 872.9,433.9 875.1,435.3 877.4,434.6 879.6,432.7 881.9,432.4 883.8,430.6 885.6,427.2 887.5,426.7 889.3,424.2 891.5,426.6 893.8,426.4 896.0,426.6 898.3,427.9 900.5,428.1 902.8,429.4 905.0,430.4 907.2,428.7 909.5,425.7 911.7,424.6 914.0,426.7 916.2,425.7 918.5,427.7 920.7,427.2 922.9,427.9 925.1,430.9 928.1,427.9 930.4,429.3 932.6,432.4 934.9,433.5 937.1,433.1 939.4,433.9 941.6,436.1 943.8,433.8 946.0,433.9 948.0,434.6 950.0,433.1 952.0,433.1 954.0,433.3 956.0,430.4 958.0,430.9 960.2,428.3 962.5,426.4 964.7,425.1 966.9,422.7 969.1,422.3 971.4,424.9 973.6,424.7 975.9,426.4 978.1,428.1 980.4,428.7 982.6,431.9 984.9,432.4 987.1,434.6 989.3,433.9 991.5,433.9 993.8,436.1 996.0,437.3 998.3,438.4 999.9,439.3 1001.6,439.0 1003.2,439.7 1004.9,438.9 1006.5,439.9 1006.5,453.5 8.0,453.5" fill="#edf0f3"/><line x1="8" y1="453.5" x2="1006.5" y2="453.5" stroke="#eef0f3" stroke-width="1"/><text x="48.8" y="470.6" text-anchor="middle" font-family='"Liberation Sans", sans-serif' font-size="12" fill="#778192">2016</text><text x="151.4" y="470.6" text-anchor="middle" font-family='"Liberation Sans", sans-serif' font-size="12" fill="#778192">2017</text><text x="254.1" y="470.6" text-anchor="middle" font-family='"Liberation Sans", sans-serif' font-size="12" fill="#778192">2018</text><text x="356.8" y="470.6" text-anchor="middle" font-family='"Liberation Sans", sans-serif' font-size="12" fill="#778192">2019</text><text x="459.4" y="470.6" text-anchor="middle" font-family='"Liberation Sans", sans-serif' font-size="12" fill="#778192">2020</text><text x="562.0" y="470.6" text-anchor="middle" font-family='"Liberation Sans", sans-serif' font-size="12" fill="#778192">2021</text><text x="664.7" y="470.6" text-anchor="middle" font-family='"Liberation Sans", sans-serif' font-size="12" fill="#778192">2022</text><text x="767.4" y="470.6" text-anchor="middle" font-family='"Liberation Sans", sans-serif' font-size="12" fill="#778192">2023</text><text x="870.0" y="470.6" text-anchor="middle" font-family='"Liberation Sans", sans-serif' font-size="12" fill="#778192">2024</text><text x="972.6" y="470.6" text-anchor="middle" font-family='"Liberation Sans", sans-serif' font-size="12" fill="#778192">2025</text><line x1="1006" y1="413" x2="1006" y2="425" stroke="#e6e8ec" stroke-width="1"/><rect x="999.2" y="424.3" width="13.6" height="18.3" rx="6.5" fill="#fff" stroke="#e9ebef" stroke-width="0.8" style="filter:drop-shadow(0 1px 2px rgba(0,0,0,0.12))"/><line x1="1004.4" y1="429.5" x2="1004.4" y2="436.8" stroke="#7a8292" stroke-width="1.1"/><line x1="1007.6" y1="429.5" x2="1007.6" y2="436.8" stroke="#7a8292" stroke-width="1.1"/></svg>
</body></html>
